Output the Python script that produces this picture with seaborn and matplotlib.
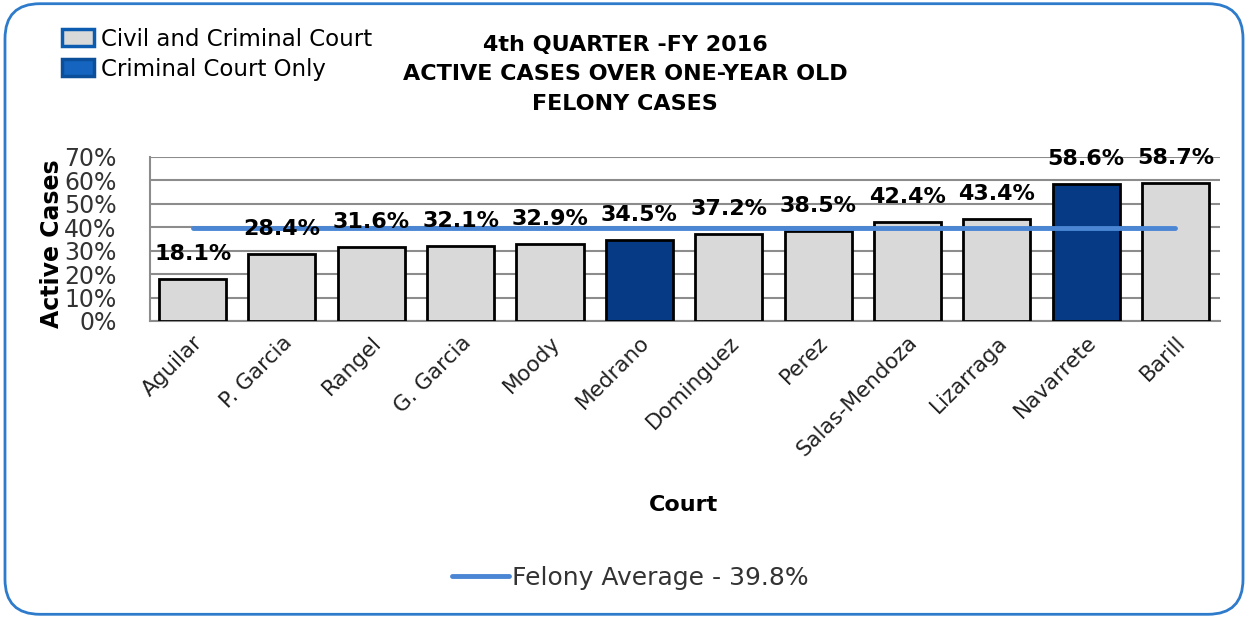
import numpy as np
import matplotlib
matplotlib.use("Agg")
import matplotlib.pyplot as plt
import seaborn as sns
from matplotlib.patches import FancyBboxPatch, Patch
from matplotlib.lines import Line2D

courts = ["Aguilar", "P. Garcia", "Rangel", "G. Garcia", "Moody", "Medrano",
          "Dominguez", "Perez", "Salas-Mendoza", "Lizarraga", "Navarrete", "Barill"]
values = [18.1, 28.4, 31.6, 32.1, 32.9, 34.5, 37.2, 38.5, 42.4, 43.4, 58.6, 58.7]
court_type = ["Civil and Criminal Court"] * 5 + ["Criminal Court Only"] + \
             ["Civil and Criminal Court"] * 4 + ["Criminal Court Only", "Civil and Criminal Court"]
felony_avg = 39.8
yticks = [0, 10, 20, 30, 40, 50, 60, 70]

sns.set_theme(style="white")
plt.rcParams['font.family'] = ['DejaVu Sans']

gray = "#D9D9D9"
navy = "#063A85"
line_blue = "#4A86D4"
palette = {"Civil and Criminal Court": gray, "Criminal Court Only": navy}

fig = plt.figure(figsize=(12.48, 6.18), dpi=100)
ax = fig.add_axes([0.120, 0.4806, 0.8576, 0.2654])

sns.barplot(x=courts, y=values, hue=court_type, palette=palette, dodge=False, saturation=1,
            legend=False, width=0.75, edgecolor="black", linewidth=2, ax=ax, zorder=3)

ax.plot(np.arange(len(courts)), [felony_avg] * len(courts), color=line_blue, lw=3.5,
        solid_capstyle="round", zorder=4)

for i, v in enumerate(values):
    ax.annotate(f"{v:.1f}%", (i, v), xytext=(0, 18), textcoords="offset points",
                ha="center", va="center", fontsize=16, fontweight="bold", color="black", zorder=5)

ax.set_ylim(0, 70)
ax.set_xlim(-0.48, len(courts) - 0.5)
ax.set_yticks(yticks)
ax.set_yticklabels([f"{t}%" for t in yticks], fontsize=17, color="#333333")
ax.yaxis.grid(True, color="#8C8C8C", lw=1.5, zorder=0)
ax.xaxis.grid(False)
ax.tick_params(axis="y", length=0, pad=24)
ax.tick_params(axis="x", length=0, pad=8)
ax.set_xticks(range(len(courts)))
ax.set_xticklabels(courts, rotation=45, ha="right", rotation_mode="anchor", fontsize=15.5, color="#222222")
for s in ["top", "right"]:
    ax.spines[s].set_visible(False)
ax.spines["left"].set_color("#8C8C8C")
ax.spines["left"].set_linewidth(1.5)
ax.spines["bottom"].set_color("#8C8C8C")
ax.spines["bottom"].set_linewidth(1.5)

ax.set_xlabel("Court", fontsize=16, fontweight="bold", color="black")
ax.xaxis.set_label_coords(0.499, -1.06)
ax.set_ylabel("Active Cases", fontsize=17, fontweight="bold", color="black")
ax.yaxis.set_label_coords(-0.080, 0.47)

fig.text(0.501, 0.880, "4th QUARTER -FY 2016\nACTIVE CASES OVER ONE-YEAR OLD\nFELONY CASES",
         ha="center", va="center", fontsize=16, fontweight="bold", linespacing=1.6, color="black")

handles = [Patch(facecolor=gray, edgecolor="#0B5CB0", lw=2.5, label="Civil and Criminal Court"),
           Patch(facecolor="#1565C0", edgecolor="#0B4E9A", lw=2.5, label="Criminal Court Only")]
fig.legend(handles=handles, loc="upper left", bbox_to_anchor=(0.050, 0.955), frameon=False,
           fontsize=16.5, handlelength=1.4, handleheight=0.75, labelspacing=0.3, handletextpad=0.3,
           borderpad=0, borderaxespad=0, labelcolor="black")

fig.legend(handles=[Line2D([0], [0], color=line_blue, lw=3.5, label="Felony Average - 39.8%")],
           loc="center", bbox_to_anchor=(0.505, 0.065), frameon=False, fontsize=18,
           handlelength=2.3, handletextpad=0.1, labelcolor="#333333")

border = FancyBboxPatch((0.004, 0.006), 0.992, 0.988, boxstyle="round,pad=0,rounding_size=0.028",
                        transform=fig.transFigure, fill=False, edgecolor="#2E7BCB", lw=2,
                        mutation_aspect=1248/618)
fig.patches.append(border)

fig.savefig("out.png", dpi=100)
